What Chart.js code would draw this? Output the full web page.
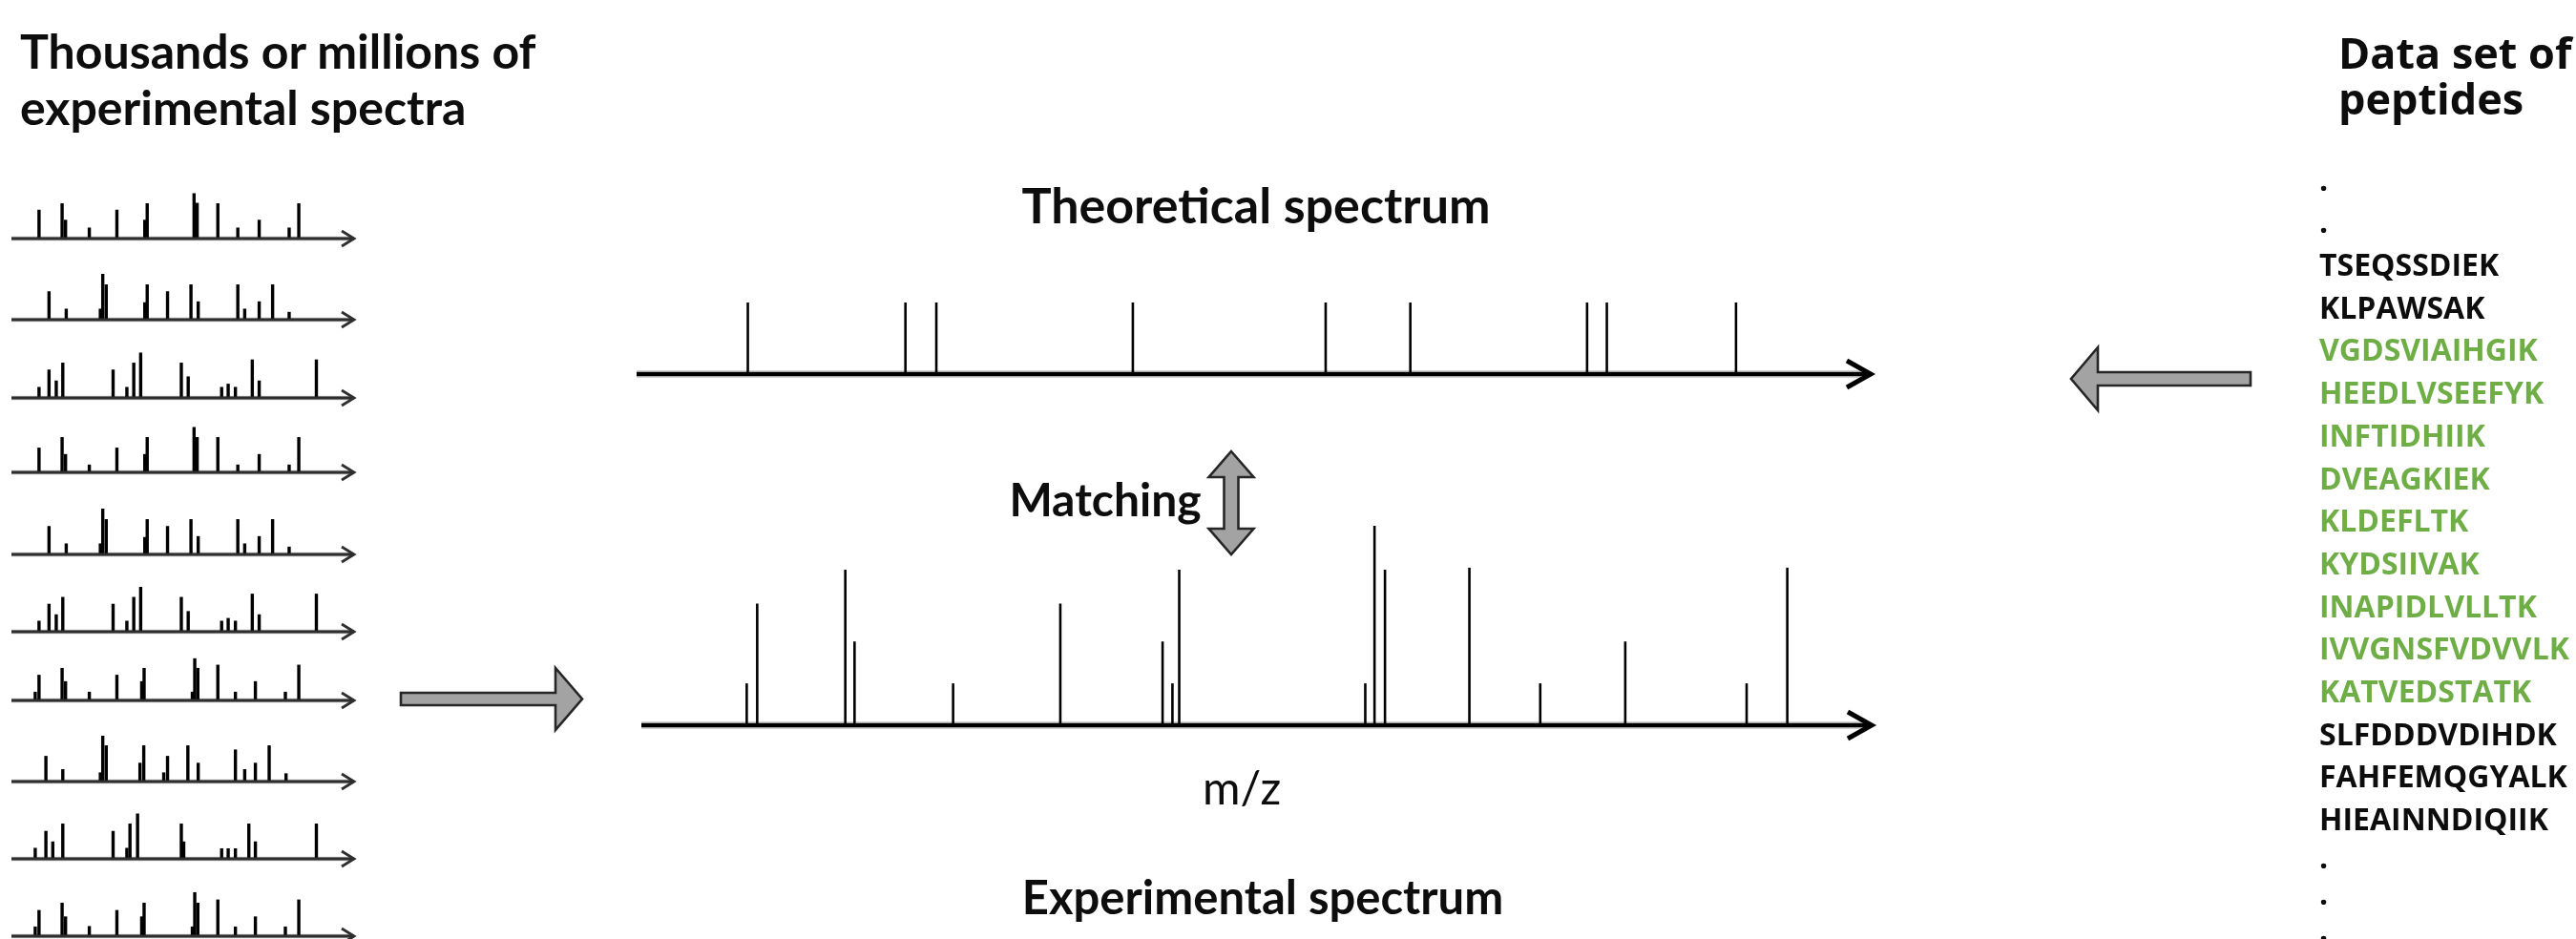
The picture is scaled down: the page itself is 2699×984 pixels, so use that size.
<!DOCTYPE html>
<html>
<head>
<meta charset="utf-8">
<script src="https://cdn.jsdelivr.net/npm/chart.js@4"></script>
<style>
  html, body { margin: 0; padding: 0; background: #ffffff; }
  #stage { position: relative; width: 2699px; height: 984px; overflow: hidden; background: #ffffff; }
  #stage canvas { position: absolute; }
  #overlay { position: absolute; left: 0; top: 0; }
</style>
</head>
<body>
<div id="stage"></div>
<script>
// ---------------- DATA ----------------
// Left column: ten small experimental spectra (m/z on a 0-1000 scale, relative intensity %)
const leftSpectraMz = [
  [80,147,157,226,306,387,394,530,539,599,657,719,806,834],
  [109,159,258,265,275,387,394,453,521,542,657,677,719,758,806],
  [80,109,130,149,295,335,355,375,493,513,610,629,650,699,719,885],
  [80,147,157,226,306,387,394,530,539,599,657,719,806,834],
  [109,159,258,265,275,387,394,453,521,542,657,677,719,758,806],
  [80,109,130,149,295,335,355,375,493,513,610,629,650,699,719,885],
  [69,80,147,157,226,306,378,385,525,532,541,599,650,708,795,834],
  [100,149,258,265,275,373,384,442,453,512,542,650,677,708,748,797],
  [69,100,120,149,295,335,344,366,493,500,610,629,650,689,708,885],
  [69,80,147,157,226,306,378,385,525,532,541,599,650,708,795,834]
];
const leftSpectraIntensity = [
  [63,77,41,24,63,41,77,99,78,77,24,41,24,77],
  [62,24,24,100,77,38,77,62,77,40,77,24,40,77,17],
  [24,62,38,77,62,24,77,99,77,47,24,31,24,84,38,84],
  [54,77,40,17,54,40,77,99,77,77,17,40,17,77],
  [62,24,24,100,77,38,77,62,77,40,77,24,40,77,17],
  [24,61,38,76,61,24,76,98,76,45,24,30,24,83,38,83],
  [19,56,71,42,19,56,42,71,19,92,71,78,19,42,19,78],
  [56,27,20,100,79,41,79,20,56,79,41,70,27,41,79,18],
  [24,61,38,77,61,24,77,99,77,38,23,23,23,77,38,77],
  [21,57,73,43,22,57,43,73,21,96,73,80,21,43,21,80]
];

// Centre: theoretical spectrum (m/z 0-2000, all peaks same height)
const theoreticalMz = [180,435,485,803,1115,1252,1538,1570,1779];
const theoreticalIntensity = [100,100,100,100,100,100,100,100,100];

// Centre: experimental spectrum
const experimentalMz = [171,188,331,346,506,680,846,862,873,1175,1190,1207,1344,1459,1597,1794,1860];
const experimentalIntensity = [21,61,78,42,21,61,42,21,78,21,100,78,79,21,42,21,79];

// Right column: peptide data set (true = candidate, shown in green)
const peptides = ['TSEQSSDIEK','KLPAWSAK','VGDSVIAIHGIK','HEEDLVSEEFYK','INFTIDHIIK','DVEAGKIEK',
  'KLDEFLTK','KYDSIIVAK','INAPIDLVLLTK','IVVGNSFVDVVLK','KATVEDSTATK','SLFDDDVDIHDK',
  'FAHFEMQGYALK','HIEAINNDIQIIK'];
const peptideIsCandidate = [false,false,true,true,true,true,true,true,true,true,true,false,false,false];

// Texts
const leftTitleLines = ['Thousands or millions of', 'experimental spectra'];
const rightTitleLines = ['Data set of', 'peptides'];
const theoreticalLabel = 'Theoretical spectrum';
const experimentalLabel = 'Experimental spectrum';
const matchingLabel = 'Matching';
const axisLabel = 'm/z';

// ---------------- LAYOUT ----------------
const stage = document.getElementById('stage');
const smallBaselines = [250,335,417,495,581,662,734,819,900,981];

const axisArrowPlugin = {
  id: 'axisArrow',
  afterDatasetsDraw(chart, args, o) {
    const { ctx } = chart;
    const { left, right, bottom } = chart.chartArea;
    ctx.save();
    if (o.halo) {
      ctx.strokeStyle = o.halo;
      ctx.lineWidth = o.width + o.haloExtra;
      ctx.beginPath(); ctx.moveTo(left, bottom); ctx.lineTo(right - 4, bottom); ctx.stroke();
    }
    ctx.strokeStyle = o.color;
    ctx.lineWidth = o.width;
    ctx.beginPath(); ctx.moveTo(left, bottom); ctx.lineTo(right - 2, bottom); ctx.stroke();
    ctx.lineWidth = o.headWidth;
    ctx.lineJoin = 'miter';
    ctx.lineCap = 'butt';
    ctx.beginPath();
    ctx.moveTo(right - o.headLen, bottom - o.headHalf);
    ctx.lineTo(right - 2, bottom);
    ctx.lineTo(right - o.headLen, bottom + o.headHalf);
    ctx.stroke();
    ctx.restore();
  }
};

function makeSpectrum(box, mz, intensity, xMax, style) {
  const c = document.createElement('canvas');
  c.width = box.w; c.height = box.h;
  c.style.left = box.x + 'px'; c.style.top = box.y + 'px';
  c.style.width = box.w + 'px'; c.style.height = box.h + 'px';
  stage.appendChild(c);
  return new Chart(c.getContext('2d'), {
    type: 'bar',
    data: {
      datasets: [{
        data: mz.map((m, i) => ({ x: m, y: intensity[i] })),
        backgroundColor: style.barColor,
        borderWidth: 0,
        barThickness: style.barThickness,
        inflateAmount: 0
      }]
    },
    options: {
      responsive: false,
      animation: false,
      devicePixelRatio: 1,
      events: [],
      layout: { padding: box.pad },
      plugins: {
        legend: { display: false },
        tooltip: { enabled: false },
        title: { display: false },
        axisArrow: style.axis
      },
      scales: {
        x: { type: 'linear', display: false, min: 0, max: xMax, offset: false, grid: { offset: false } },
        y: { display: false, min: 0, max: 100 }
      }
    },
    plugins: [axisArrowPlugin]
  });
}

const smallStyle = {
  barColor: '#000000', barThickness: 3.4,
  axis: { color: '#2e2e2e', width: 3, halo: 'rgba(0,0,0,0.25)', haloExtra: 1.5, headLen: 15, headHalf: 8, headWidth: 2.8 }
};
smallBaselines.forEach((b, i) => {
  makeSpectrum({ x: 0, y: b - 52, w: 392, h: 66, pad: { left: 12, right: 19, top: 4, bottom: 14 } },
    leftSpectraMz[i], leftSpectraIntensity[i], 1000, smallStyle);
});

const bigStyle = {
  barColor: '#000000', barThickness: 2.6,
  axis: { color: '#000000', width: 4.2, halo: 'rgba(0,0,0,0.35)', haloExtra: 3, headLen: 27, headHalf: 14, headWidth: 5 }
};
makeSpectrum({ x: 640, y: 300, w: 1360, h: 120, pad: { left: 27, right: 38, top: 17, bottom: 28 } },
  theoreticalMz, theoreticalIntensity, 2000, bigStyle);
makeSpectrum({ x: 640, y: 530, w: 1360, h: 260, pad: { left: 32, right: 37, top: 21, bottom: 30 } },
  experimentalMz, experimentalIntensity, 2000, bigStyle);

// ---------------- OVERLAY: texts and block arrows ----------------
const NS = 'http://www.w3.org/2000/svg';
const svg = document.createElementNS(NS, 'svg');
svg.setAttribute('id', 'overlay');
svg.setAttribute('width', '2699'); svg.setAttribute('height', '984');
stage.appendChild(svg);

function txt(str, x, y, opts) {
  const t = document.createElementNS(NS, 'text');
  t.setAttribute('x', x); t.setAttribute('y', y);
  t.setAttribute('font-family', opts.family);
  t.setAttribute('font-size', opts.size);
  t.setAttribute('font-weight', opts.weight || 700);
  t.setAttribute('fill', opts.color || '#0d0d0d');
  t.setAttribute('text-anchor', opts.anchor || 'start');
  t.textContent = str;
  svg.appendChild(t);
}
function poly(points) {
  const p = document.createElementNS(NS, 'polygon');
  p.setAttribute('points', points.map(q => q.join(',')).join(' '));
  p.setAttribute('fill', '#a3a3a3');
  p.setAttribute('stroke', '#262626');
  p.setAttribute('stroke-width', '2.6');
  p.setAttribute('stroke-linejoin', 'miter');
  svg.appendChild(p);
}

const lato = { family: 'Lato, "Open Sans", sans-serif', size: 48, weight: 700 };
txt(leftTitleLines[0], 21, 72, Object.assign({}, lato, { size: 50 }));
txt(leftTitleLines[1], 21, 131, Object.assign({}, lato, { size: 50 }));
txt(theoreticalLabel, 1316, 234, Object.assign({}, lato, { anchor: 'middle', size: 52 }));
txt(matchingLabel, 1158, 541, Object.assign({}, lato, { anchor: 'middle' }));
txt(axisLabel, 1301, 843, Object.assign({}, lato, { anchor: 'middle', weight: 400 }));
txt(experimentalLabel, 1323, 958, Object.assign({}, lato, { anchor: 'middle', size: 49 }));

const openTitle = { family: '"Open Sans", sans-serif', size: 45, weight: 700 };
txt(rightTitleLines[0], 2450, 72, openTitle);
txt(rightTitleLines[1], 2450, 120, openTitle);

const pepFont = { family: '"Open Sans", sans-serif', size: 32, weight: 700 };
const pepX = 2430, pepTop = 289, pepStep = 44.7;
txt('.', pepX, pepTop - 2 * pepStep, pepFont);
txt('.', pepX, pepTop - pepStep, pepFont);
peptides.forEach((p, i) => {
  txt(p, pepX, pepTop + i * pepStep, Object.assign({}, pepFont, { color: peptideIsCandidate[i] ? '#6fae47' : '#0d0d0d' }));
});
const lastY = pepTop + (peptides.length - 1) * pepStep;
[40, 78, 116].forEach(d => txt('.', pepX, lastY + d, pepFont));

// Block arrows
poly([[420,726],[582,726],[582,700],[610,732.5],[582,765],[582,739],[420,739]]);
poly([[2358,390],[2198,390],[2198,364],[2170,397],[2198,430],[2198,404],[2358,404]]);
poly([[1290,473],[1313.5,500],[1297.5,500],[1297.5,554],[1313.5,554],[1290,581],
      [1266.5,554],[1282.5,554],[1282.5,500],[1266.5,500]]);
</script>
</body>
</html>
